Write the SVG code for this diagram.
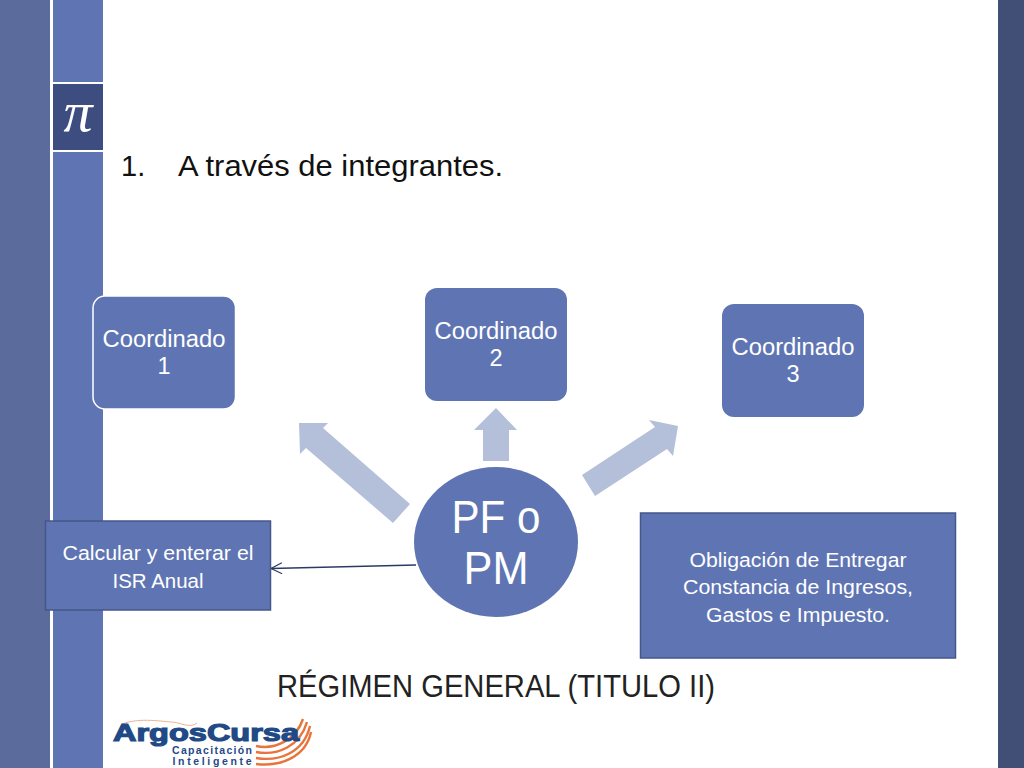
<svg xmlns="http://www.w3.org/2000/svg" width="1024" height="768" viewBox="0 0 1024 768">
<defs>
<marker id="open" markerWidth="14" markerHeight="14" refX="12" refY="6" orient="auto" markerUnits="userSpaceOnUse"><path d="M1 0.5 L12 6 L1 11.5" fill="none" stroke="#2c3a63" stroke-width="1.2"/></marker>
</defs>
<style>
text{font-family:"Liberation Sans",Arial,sans-serif;text-anchor:middle}
.box{fill:#5f75b3}
.d{fill:#111}
.block{fill:#b4bfd9}
.n{font-size:23.5px;fill:#fff}
.s{font-size:20px;fill:#fff}
.swoosh{fill:none;stroke:#e8743b;stroke-width:2.4}
.logo{fill:#1f4a86;font-weight:bold}
</style>
<rect width="1024" height="768" fill="#fff"/>
<g id="background">
<rect x="0" y="0" width="50" height="768" fill="#5a6b9c"/>
<rect x="53" y="0" width="50" height="82" class="box"/>
<rect x="53" y="84" width="50" height="66" fill="#3e4d80"/>
<rect x="53" y="152" width="50" height="616" class="box"/>
<rect x="998" y="0" width="26" height="768" fill="#414e75"/>
<text x="78" y="131" font-size="58" style="font-family:'Liberation Serif',serif;font-style:italic;fill:#fff">π</text>
</g>
<g id="heading">
<text x="121" y="176" font-size="29" class="d" style="text-anchor:start">1.</text>
<text x="178" y="176" font-size="29" class="d" style="text-anchor:start" textLength="325" lengthAdjust="spacingAndGlyphs">A través de integrantes.</text>
</g>
<g id="connectors">
<polygon class="block" points="299,423 328,423 323,428 410,504 393,523 306,448 300,454"/>
<polygon class="block" points="496,408 517,430 509,430 509,461 483,461 483,430 474,430"/>
<polygon class="block" points="678,426 673,456 667,449 595,496 582,475 655,427 649,420"/>
<line x1="416" y1="565" x2="271" y2="568.5" stroke="#2c3a63" stroke-width="1.4" marker-end="url(#open)"/>
</g>
<g id="coordinado1">
<rect x="93" y="296" width="142.5" height="113" rx="12" class="box" stroke="#fff" stroke-width="1.5"/>
<text x="164" y="347" class="n" textLength="123" lengthAdjust="spacingAndGlyphs">Coordinado</text>
<text x="164" y="374" class="n">1</text>
</g>
<g id="coordinado2">
<rect x="425" y="288" width="142" height="113" rx="12" class="box"/>
<text x="496" y="339" class="n" textLength="123" lengthAdjust="spacingAndGlyphs">Coordinado</text>
<text x="496" y="366" class="n">2</text>
</g>
<g id="coordinado3">
<rect x="722" y="304" width="142" height="113" rx="12" class="box"/>
<text x="793" y="355" class="n" textLength="123" lengthAdjust="spacingAndGlyphs">Coordinado</text>
<text x="793" y="382" class="n">3</text>
</g>
<g id="pf-pm">
<ellipse cx="496" cy="542" rx="82" ry="75" class="box"/>
<text x="496" y="533" font-size="46" style="fill:#fff" textLength="89" lengthAdjust="spacingAndGlyphs">PF o</text>
<text x="496" y="584" font-size="46" style="fill:#fff" textLength="65" lengthAdjust="spacingAndGlyphs">PM</text>
</g>
<g id="calcular">
<rect x="45.5" y="521" width="225" height="89" class="box" stroke="#45578a" stroke-width="1.5"/>
<text x="158" y="560" class="s" textLength="191" lengthAdjust="spacingAndGlyphs">Calcular y enterar el</text>
<text x="158" y="588" class="s" textLength="91" lengthAdjust="spacingAndGlyphs">ISR Anual</text>
</g>
<g id="obligacion">
<rect x="640.5" y="513" width="315" height="145" class="box" stroke="#45578a" stroke-width="1.5"/>
<text x="798" y="567" class="s" textLength="217" lengthAdjust="spacingAndGlyphs">Obligación de Entregar</text>
<text x="798" y="594" class="s" textLength="230" lengthAdjust="spacingAndGlyphs">Constancia de Ingresos,</text>
<text x="798" y="622" class="s" textLength="184" lengthAdjust="spacingAndGlyphs">Gastos e Impuesto.</text>
</g>
<g id="title">
<text x="496" y="697" font-size="32" style="fill:#222" textLength="438" lengthAdjust="spacingAndGlyphs">RÉGIMEN GENERAL (TITULO II)</text>
</g>
<g id="logo">
<path d="M122 724 C140 717 165 722 172 722 S190 729 197 723" fill="none" stroke="#e8a07a" stroke-width="0.8"/>
<path class="swoosh" d="M256 746 C275 750 296 740 303 719"/>
<path class="swoosh" d="M256 752 C278 756 300 746 307 722"/>
<path class="swoosh" d="M256 758 C280 762 304 752 310 726"/>
<path class="swoosh" d="M256 764 C282 767 306 756 311 732"/>
<text x="206" y="741" font-size="24" class="logo" style="stroke:#1f4a86;stroke-width:1.2" textLength="186" lengthAdjust="spacingAndGlyphs">ArgosCursa</text>
<text x="212" y="754" font-size="10.5" class="logo" textLength="80" lengthAdjust="spacing">Capacitación</text>
<text x="212" y="764.5" font-size="10.5" class="logo" textLength="79" lengthAdjust="spacing">Inteligente</text>
</g>
</svg>
